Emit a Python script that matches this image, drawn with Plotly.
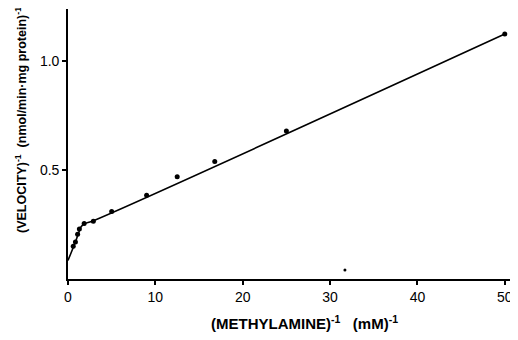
import plotly.graph_objects as go

# Measured points: 1/[methylamine] (mM^-1) vs 1/velocity
inv_s = [0.6, 0.85, 1.1, 1.3, 1.85, 2.9, 5, 9, 12.5, 16.8, 25, 50]
inv_v = [0.15, 0.17, 0.205, 0.23, 0.255, 0.265, 0.31, 0.385, 0.47, 0.54, 0.68, 1.125]

# Hand-drawn fitted curve vertices
fit_x = [0, 0.3, 0.6, 0.9, 1.2, 1.5, 1.9, 2.9, 50]
fit_y = [0.085, 0.115, 0.145, 0.175, 0.21, 0.24, 0.254, 0.268, 1.125]

# Small speck in the original figure
speck_x = [31.7]
speck_y = [0.041]

x_ticks = [0, 10, 20, 30, 40, 50]
y_ticks = [0.5, 1.0]
y_tick_text = ["0.5", "1.0"]

font_fam = "Liberation Sans, Arial, sans-serif"

fig = go.Figure()
fig.add_trace(go.Scatter(x=fit_x, y=fit_y, mode="lines",
                         line=dict(color="black", width=1.6), showlegend=False,
                         line_shape="spline"))
fig.add_trace(go.Scatter(x=inv_s, y=inv_v, mode="markers",
                         marker=dict(color="black", size=5), showlegend=False))
fig.add_trace(go.Scatter(x=speck_x, y=speck_y, mode="markers",
                         marker=dict(color="black", size=3), showlegend=False))

# page body has an 8px margin: figure is 510x332 placed at (8,8)
fig.update_layout(
    width=510, height=332,
    margin=dict(l=60, r=8, t=1, b=61, autoexpand=False),
    paper_bgcolor="white", plot_bgcolor="white",
    font=dict(family=font_fam, color="black", size=13),
    xaxis=dict(range=[0, 50.6], tickvals=x_ticks, ticks="outside", ticklen=4,
               tickwidth=1.5, tickcolor="black", showline=True, linecolor="black",
               linewidth=1.6, showgrid=False, zeroline=False,
               tickfont=dict(size=14, family=font_fam)),
    yaxis=dict(range=[0, 1.24], tickvals=y_ticks, ticktext=y_tick_text,
               ticks="outside", ticklen=4, tickwidth=1.5, tickcolor="black",
               showline=True, linecolor="black", linewidth=1.6,
               showgrid=False, zeroline=False,
               tickfont=dict(size=14, family=font_fam)),
)

fig.add_annotation(text="<b>(METHYLAMINE)<sup>-1</sup>   (mM)<sup>-1</sup></b>",
                   xref="paper", yref="paper", x=0.536, y=-0.12,
                   xanchor="center", yanchor="top", showarrow=False,
                   font=dict(size=15, family=font_fam))
fig.add_annotation(text="<b>(VELOCITY)<sup>-1</sup>  (nmol/min\u00b7mg protein)<sup>-1</sup></b>",
                   xref="paper", yref="paper", x=-0.108, y=0.59,
                   xanchor="center", yanchor="middle", showarrow=False,
                   textangle=-90, font=dict(size=12.5, family=font_fam))

fig.write_html("out.html")
